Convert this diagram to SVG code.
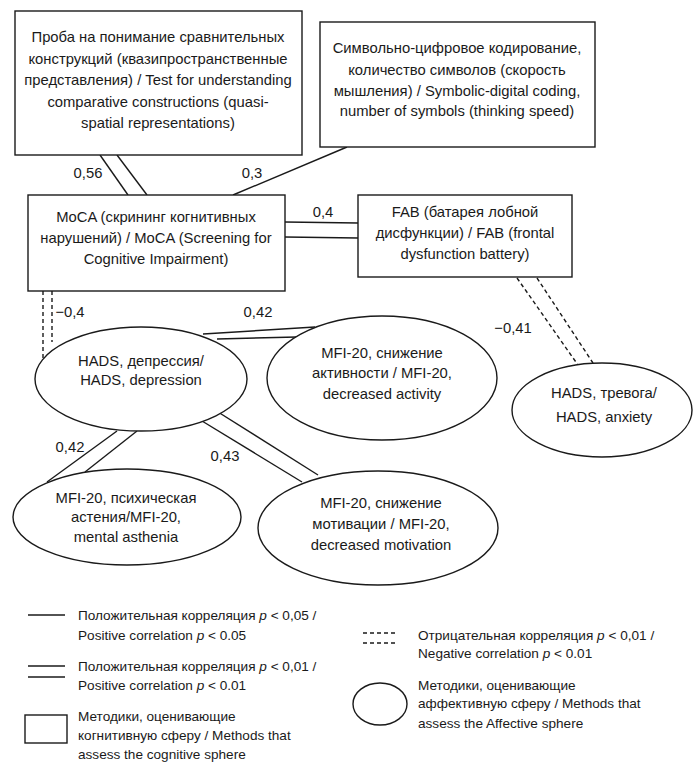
<svg xmlns="http://www.w3.org/2000/svg" width="699" height="768" viewBox="0 0 699 768">
<style>
text{font-family:"Liberation Sans",Arial,sans-serif;font-size:14.8px;fill:#1a1a1a;text-anchor:middle}
.lg{text-anchor:start;font-size:13.6px}
.nd{fill:#fff;stroke:#1a1a1a;stroke-width:1.4}
.ln{stroke:#1a1a1a;stroke-width:1.4;fill:none}
.ds{stroke:#1a1a1a;stroke-width:1.4;fill:none;stroke-dasharray:4 3}
.it{font-style:italic}
</style>
<rect width="699" height="768" fill="#fff"/>
<g id="connectors">
<line class="ln" x1="100" y1="155" x2="128" y2="195"/>
<line class="ln" x1="117" y1="155" x2="147" y2="195"/>
<line class="ln" x1="347" y1="147" x2="233" y2="195"/>
<line class="ln" x1="285" y1="222" x2="358" y2="223"/>
<line class="ln" x1="285" y1="237" x2="358" y2="238"/>
<line class="ds" x1="43" y1="291" x2="43" y2="358"/>
<line class="ds" x1="52" y1="291" x2="52" y2="342"/>
<line class="ln" x1="203" y1="334" x2="315" y2="327"/>
<line class="ln" x1="217" y1="339" x2="297" y2="337"/>
<line class="ds" x1="517" y1="278" x2="578" y2="365"/>
<line class="ds" x1="537" y1="278" x2="593" y2="363"/>
<line class="ln" x1="117" y1="431" x2="47" y2="482"/>
<line class="ln" x1="137" y1="431" x2="85" y2="472"/>
<line class="ln" x1="202" y1="421" x2="302" y2="482"/>
<line class="ln" x1="218" y1="412" x2="318" y2="475"/>
<text x="88" y="178">0,56</text>
<text x="252" y="178">0,3</text>
<text x="323" y="217">0,4</text>
<text x="70" y="317">−0,4</text>
<text x="258" y="317">0,42</text>
<text x="513" y="333">−0,41</text>
<text x="70" y="452">0,42</text>
<text x="225" y="461">0,43</text>
</g>
<g id="n_comparative">
<rect class="nd" x="15" y="11" width="287" height="144"/>
<text x="158" y="42">Проба на понимание сравнительных</text>
<text x="158" y="64">конструкций (квазипространственные</text>
<text x="158" y="85">представления) / Test for understanding</text>
<text x="158" y="107">comparative constructions (quasi-</text>
<text x="158" y="128">spatial representations)</text>
</g>
<g id="n_symbolic">
<rect class="nd" x="320" y="22" width="275" height="125"/>
<text x="457" y="53">Символьно-цифровое кодирование,</text>
<text x="457" y="75">количество символов (скорость</text>
<text x="457" y="96">мышления) / Symbolic-digital coding,</text>
<text x="457" y="116">number of symbols (thinking speed)</text>
</g>
<g id="n_moca">
<rect class="nd" x="28" y="195" width="257" height="96"/>
<text x="156" y="222">MoCA (скрининг когнитивных</text>
<text x="156" y="243">нарушений) / MoCA (Screening for</text>
<text x="156" y="264">Cognitive Impairment)</text>
</g>
<g id="n_fab">
<rect class="nd" x="358" y="195" width="214" height="82"/>
<text x="465" y="217">FAB (батарея лобной</text>
<text x="465" y="238">дисфункции) / FAB (frontal</text>
<text x="465" y="259">dysfunction battery)</text>
</g>
<g id="n_hads_dep">
<ellipse class="nd" cx="141" cy="379" rx="106" ry="52"/>
<text x="141" y="366">HADS, депрессия/</text>
<text x="141" y="385">HADS, depression</text>
</g>
<g id="n_mfi_activity">
<ellipse class="nd" cx="382" cy="378" rx="115" ry="62"/>
<text x="382" y="358">MFI-20, снижение</text>
<text x="382" y="378">активности / MFI-20,</text>
<text x="382" y="399">decreased activity</text>
</g>
<g id="n_hads_anx">
<ellipse class="nd" cx="602" cy="410" rx="90" ry="47"/>
<text x="604" y="398">HADS, тревога/</text>
<text x="604" y="422">HADS, anxiety</text>
</g>
<g id="n_mfi_asthenia">
<ellipse class="nd" cx="127" cy="517" rx="114" ry="48"/>
<text x="126" y="503">MFI-20, психическая</text>
<text x="126" y="522">астения/MFI-20,</text>
<text x="126" y="542">mental asthenia</text>
</g>
<g id="n_mfi_motivation">
<ellipse class="nd" cx="378" cy="528" rx="120" ry="57"/>
<text x="381" y="508">MFI-20, снижение</text>
<text x="381" y="529">мотивации / MFI-20,</text>
<text x="381" y="550">decreased motivation</text>
</g>
<g id="legend">
<line class="ln" x1="28" y1="615" x2="65" y2="615"/>
<text class="lg" x="78" y="620">Положительная корреляция <tspan class="it">p</tspan> &lt; 0,05 /</text>
<text class="lg" x="78" y="640">Positive correlation <tspan class="it">p</tspan> &lt; 0.05</text>
<line class="ln" x1="28" y1="666" x2="65" y2="666"/>
<line class="ln" x1="28" y1="677" x2="65" y2="677"/>
<text class="lg" x="78" y="671">Положительная корреляция <tspan class="it">p</tspan> &lt; 0,01 /</text>
<text class="lg" x="78" y="690">Positive correlation <tspan class="it">p</tspan> &lt; 0.01</text>
<rect class="nd" x="25" y="715" width="42" height="28"/>
<text class="lg" x="78" y="721">Методики, оценивающие</text>
<text class="lg" x="78" y="740">когнитивную сферу / Methods that</text>
<text class="lg" x="78" y="759">assess the cognitive sphere</text>
<line class="ds" x1="363" y1="633" x2="395" y2="633"/>
<line class="ds" x1="363" y1="643" x2="395" y2="643"/>
<text class="lg" x="418" y="640">Отрицательная корреляция  <tspan class="it">p</tspan> &lt; 0,01 /</text>
<text class="lg" x="418" y="658">Negative correlation <tspan class="it">p</tspan> &lt; 0.01</text>
<ellipse class="nd" cx="380" cy="704" rx="27" ry="21"/>
<text class="lg" x="418" y="690">Методики, оценивающие</text>
<text class="lg" x="418" y="708">аффективную сферу / Methods that</text>
<text class="lg" x="418" y="728">assess the Affective sphere</text>
</g>
</svg>
